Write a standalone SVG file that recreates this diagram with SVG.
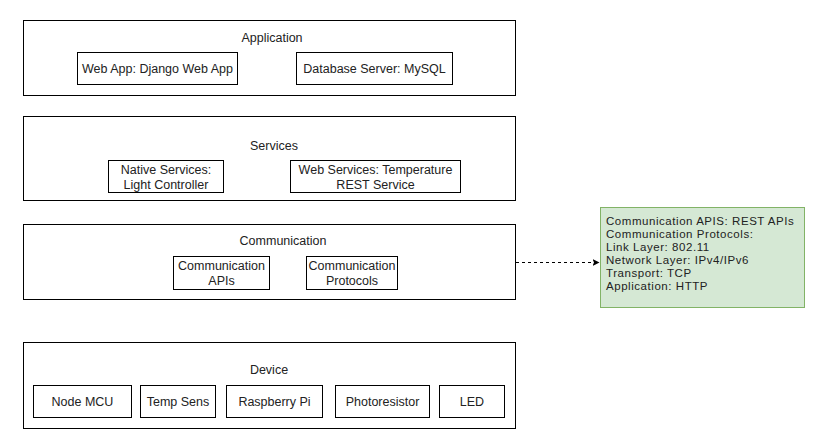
<svg xmlns="http://www.w3.org/2000/svg" width="837" height="446" viewBox="0 0 837 446">
<defs>
<style>
.box{fill:#fff;stroke:#000;stroke-width:1}
.t{font-family:"Liberation Sans",Arial,sans-serif;font-size:12.5px;fill:#222;text-anchor:middle}
.tl{font-family:"Liberation Sans",Arial,sans-serif;font-size:11.5px;letter-spacing:0.55px;fill:#222}
.note{fill:#d5e8d4;stroke:#82b366;stroke-width:1}
.edge{fill:none;stroke:#000;stroke-width:1;stroke-dasharray:3 3}
</style>
<marker id="arr" markerWidth="8" markerHeight="8" refX="7" refY="4" orient="auto" markerUnits="userSpaceOnUse">
<path d="M0,0.5 L7,4 L0,7.5 L1.5,4 Z" fill="#000"/>
</marker>
</defs>
<rect width="837" height="446" fill="#fff"/>

<g id="application">
<rect class="box" x="23.5" y="20.5" width="492" height="75"/>
<text class="t" x="272" y="42">Application</text>
<g id="webapp"><rect class="box" x="77.5" y="52.5" width="160" height="32"/>
<text class="t" x="157.5" y="72.5">Web App: Django Web App</text></g>
<g id="dbserver"><rect class="box" x="296.5" y="52.5" width="156" height="32"/>
<text class="t" x="374.5" y="72.5">Database Server: MySQL</text></g>
</g>

<g id="services">
<rect class="box" x="23.5" y="116.5" width="492" height="84"/>
<text class="t" x="274" y="149.5">Services</text>
<g id="native"><rect class="box" x="108.5" y="160.5" width="115" height="32"/>
<text class="t" x="166" y="173.5">Native Services:</text>
<text class="t" x="166" y="188.5">Light Controller</text></g>
<g id="websvc"><rect class="box" x="290.5" y="160.5" width="170" height="32"/>
<text class="t" x="375.5" y="173.5">Web Services: Temperature</text>
<text class="t" x="375.5" y="188.5">REST Service</text></g>
</g>

<g id="communication">
<rect class="box" x="23.5" y="224.5" width="492" height="75"/>
<text class="t" x="283" y="245">Communication</text>
<g id="commapis"><rect class="box" x="173.5" y="256.5" width="96" height="33"/>
<text class="t" x="221.5" y="269.5">Communication</text>
<text class="t" x="221.5" y="285">APIs</text></g>
<g id="commprot"><rect class="box" x="306.5" y="256.5" width="91" height="33"/>
<text class="t" x="352" y="269.5">Communication</text>
<text class="t" x="352" y="285">Protocols</text></g>
</g>

<g id="device">
<rect class="box" x="23.5" y="342.5" width="492" height="86"/>
<text class="t" x="269" y="373.5">Device</text>
<g id="nodemcu"><rect class="box" x="33.5" y="385.5" width="98" height="32"/>
<text class="t" x="82.5" y="405.5">Node MCU</text></g>
<g id="tempsens"><rect class="box" x="140.5" y="385.5" width="75" height="32"/>
<text class="t" x="178" y="405.5">Temp Sens</text></g>
<g id="rpi"><rect class="box" x="226.5" y="385.5" width="96" height="32"/>
<text class="t" x="274.5" y="405.5">Raspberry Pi</text></g>
<g id="photo"><rect class="box" x="335.5" y="385.5" width="94" height="32"/>
<text class="t" x="382.5" y="405.5">Photoresistor</text></g>
<g id="led"><rect class="box" x="439.5" y="385.5" width="65" height="32"/>
<text class="t" x="472" y="405.5">LED</text></g>
</g>

<g id="note">
<rect class="note" x="600.5" y="207.5" width="204" height="100"/>
<text class="tl" x="606" y="225">Communication APIS: REST APIs</text>
<text class="tl" x="606" y="238">Communication Protocols:</text>
<text class="tl" x="606" y="251">Link Layer: 802.11</text>
<text class="tl" x="606" y="264">Network Layer: IPv4/IPv6</text>
<text class="tl" x="606" y="277">Transport: TCP</text>
<text class="tl" x="606" y="290">Application: HTTP</text>
</g>

<g id="connectors">
<path class="edge" d="M516,262.5 L599.5,262.5" marker-end="url(#arr)"/>
</g>
</svg>
